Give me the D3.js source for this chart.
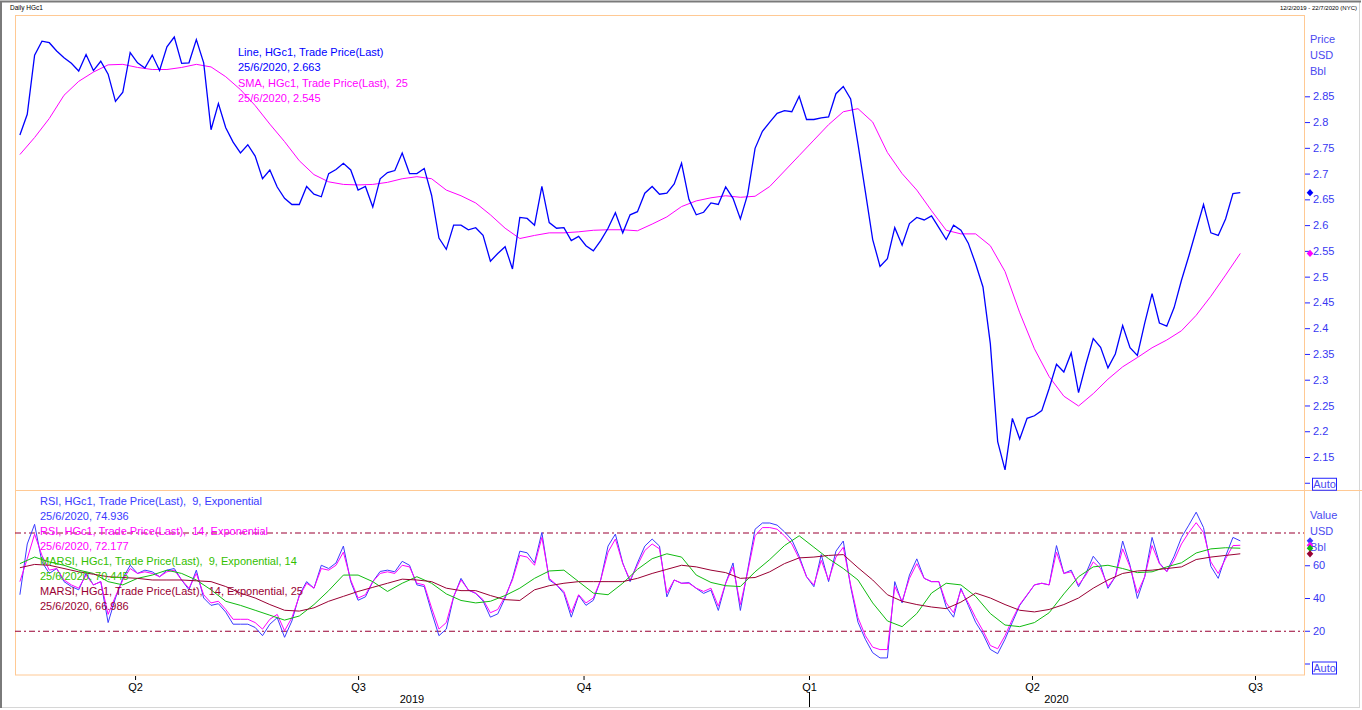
<!DOCTYPE html>
<html>
<head>
<meta charset="utf-8">
<style>
    body { margin: 0; background: #fff; }
    svg { display: block; font-family: "Liberation Sans", Arial, sans-serif; }
    .legend { font-size: 11px; white-space: pre; }
    .yaxis text { fill: #3838f2; font-size: 11px; font-family: "Liberation Sans", Arial, sans-serif; }
    .yaxis line { stroke: #2424ff; }
    .xaxis text { fill: #000; font-size: 11px; font-family: "Liberation Sans", Arial, sans-serif; }
    .xaxis line { stroke: #000; }
</style>
</head>
<body>
<svg width="1362" height="710"></svg>
<script src="https://cdn.jsdelivr.net/npm/d3@7"></script>
<script>

// ---- data ----
var seriesStart = new Date(2019, 1, 13);   // first sample
var dailyStep = 3;                          // days between price / RSI samples
var smoothStep = 6;                         // days between SMA / MARSI samples

var priceValues = [
    2.775, 2.815, 2.93, 2.957, 2.954, 2.938, 2.925, 2.914, 2.899, 2.931,
    2.90, 2.918, 2.893, 2.840, 2.858, 2.935, 2.915, 2.905, 2.930, 2.90,
    2.946, 2.965, 2.914, 2.915, 2.96, 2.915, 2.785, 2.836, 2.789, 2.761,
    2.740, 2.756, 2.734, 2.69, 2.707, 2.674, 2.652, 2.64, 2.64, 2.675,
    2.66, 2.655, 2.70, 2.708, 2.72, 2.707, 2.668, 2.675, 2.635, 2.69,
    2.702, 2.706, 2.74, 2.70, 2.70, 2.71, 2.658, 2.575, 2.553, 2.60,
    2.60, 2.591, 2.595, 2.58, 2.53, 2.545, 2.558, 2.515, 2.615, 2.613,
    2.60, 2.675, 2.605, 2.594, 2.595, 2.57, 2.578, 2.56, 2.55, 2.57,
    2.594, 2.624, 2.585, 2.62, 2.626, 2.662, 2.675, 2.66, 2.662, 2.68,
    2.72, 2.65, 2.62, 2.625, 2.643, 2.64, 2.674, 2.652, 2.612, 2.66,
    2.749, 2.782, 2.80, 2.817, 2.822, 2.82, 2.85, 2.805, 2.805, 2.808,
    2.81, 2.855, 2.869, 2.845, 2.757, 2.665, 2.572, 2.52, 2.535, 2.595,
    2.561, 2.603, 2.615, 2.61, 2.618, 2.595, 2.572, 2.60, 2.59, 2.565,
    2.525, 2.48, 2.37, 2.18, 2.125, 2.225, 2.185, 2.225, 2.23, 2.24,
    2.283, 2.33, 2.315, 2.352, 2.275, 2.33, 2.38, 2.363, 2.323, 2.35,
    2.405, 2.362, 2.347, 2.41, 2.467, 2.41, 2.404, 2.44, 2.493, 2.54,
    2.59, 2.64, 2.585, 2.58, 2.612, 2.661, 2.663
];

var smaValues = [
    2.737, 2.77, 2.807, 2.852, 2.879, 2.897, 2.911, 2.912, 2.906, 2.902,
    2.902, 2.906, 2.912, 2.907, 2.888, 2.863, 2.832, 2.796, 2.762, 2.725,
    2.698, 2.684, 2.679, 2.678, 2.679, 2.683, 2.69, 2.694, 2.69, 2.668,
    2.657, 2.643, 2.62, 2.594, 2.574, 2.58, 2.585, 2.585, 2.587, 2.59,
    2.591, 2.591, 2.589, 2.602, 2.616, 2.636, 2.647, 2.653, 2.657, 2.654,
    2.656, 2.675, 2.705, 2.735, 2.765, 2.795, 2.82, 2.826, 2.80, 2.741,
    2.70, 2.668, 2.628, 2.59, 2.583, 2.583, 2.56, 2.51, 2.43, 2.36,
    2.306, 2.268, 2.249, 2.273, 2.301, 2.325, 2.343, 2.362, 2.377, 2.395,
    2.425, 2.462, 2.503, 2.545
];

var rsi9Values = [
    42, 73, 85, 62, 55, 58, 50, 47, 45, 55,
    48, 50, 25, 40, 52, 60, 55, 57, 56, 53,
    57, 58, 51, 45, 57, 40, 35.5, 36.5, 31.4, 24,
    24, 24, 22, 17, 24, 28, 16, 26, 41.7, 50,
    46, 60, 58, 61.4, 71.7, 50, 38.6, 40.7, 50, 56.2,
    57, 56, 62.4, 60, 48, 47, 31.4, 17, 21, 40.7,
    52, 44.8, 42.8, 38.2, 28.3, 30.3, 40, 52, 68.6, 67.6,
    61.4, 80, 51, 48, 42.8, 28.3, 41.7, 35.5, 38.6, 51,
    71.7, 79, 61.4, 50, 61.4, 71.7, 76, 71.7, 40.7, 51,
    49, 49.4, 45.9, 42.8, 44.8, 32.4, 49, 61.4, 32.4, 57.2,
    82, 85.8, 85.8, 84.5, 80.4, 75.5, 65.5, 53, 46.9, 66.5,
    50, 68.6, 74.8, 46.9, 25.2, 14.8, 6.6, 3.4, 3.4, 50,
    37, 54, 63.9, 52, 50, 50, 34.5, 28.3, 45.9, 35.5,
    25.2, 18, 8.6, 6, 14.8, 25.2, 35.5, 41.7, 48, 49,
    48, 72, 55, 57, 46.9, 55, 65.5, 60, 45.9, 53,
    74.8, 60, 39.7, 53, 77, 61.4, 56.2, 65.5, 77, 84.5,
    92.4, 83, 59.3, 52, 65.5, 77, 74.9
];

var rsi14Values = [
    50, 64, 79, 66, 57, 58, 51, 48, 46, 54,
    48, 50, 30, 41, 51, 58, 55, 56, 55, 53,
    56, 57, 51, 46, 55, 42, 37, 38, 33, 27,
    27, 27, 25, 21, 27, 30, 20, 28, 41, 49,
    46, 58, 57, 60, 68, 51, 40, 42, 50, 55,
    56, 55, 60, 59, 49, 48, 34, 21, 25, 41,
    51, 45, 43, 39, 31, 33, 41, 51, 66, 65,
    60, 77, 52, 48, 44, 31, 42, 37, 40, 51,
    68, 76, 61, 51, 60, 69, 73, 70, 43, 51,
    49, 49, 46, 44, 46, 35, 49, 59, 36, 56,
    78, 83, 83, 82, 78, 73, 64, 53, 48, 63,
    51, 65, 71, 48, 28, 17, 10, 8.5, 8.5, 47,
    38, 52, 61, 52, 50, 50, 37, 31, 45, 37,
    28, 20, 11, 9, 17, 27, 36, 42, 48, 49,
    48, 68, 55, 56, 48, 54, 62, 58, 47, 53,
    70, 59, 43, 53, 72, 61, 56, 63, 73, 80,
    86, 80, 62, 55, 64, 72, 72.2
];

var marsi9Values = [
    61, 65, 62, 60, 57, 55, 50, 48, 52, 54,
    57, 55, 51, 45, 38, 35.5, 32.5, 29.5, 26.5, 29,
    36, 44.5, 54, 54, 50, 44, 49, 53, 49, 42.5,
    38.5, 37, 38, 41.5, 46, 52, 56.5, 57, 50, 43,
    42, 49, 57.5, 64, 67, 65, 54, 49.5, 47.5, 47,
    56, 63.5, 72, 78, 71, 64, 58, 51, 37, 26,
    22.5, 30.5, 43, 49, 48, 41, 30.5, 23.5, 22.5, 25,
    31, 42.5, 53, 59, 60, 58, 55.5, 56, 59, 61.5,
    67.5, 70, 70.7, 70.4
];

var marsi14Values = [
    58.5, 60.5, 60, 58, 56, 54.5, 53, 52.5, 52, 51,
    51, 51, 50.5, 50, 47, 43, 40, 36, 32.5, 32,
    34, 38, 41, 44, 46.5, 49, 51.5, 51, 50, 46,
    44.5, 44.5, 41.5, 39, 38.5, 45, 47.5, 49, 50, 50,
    50, 50, 52, 55, 57.5, 60, 59, 57, 55.5, 52,
    52.5, 56, 61, 64.5, 65, 66, 66.5, 58.5, 51, 42,
    38, 36, 34.5, 33.5, 37.5, 43, 40, 36, 32.5, 31.5,
    33, 36, 40, 46, 51, 55, 56.5, 57, 58, 59,
    63.5, 65, 66, 67
];

var quarterDates = [new Date(2019, 3, 1), new Date(2019, 6, 1), new Date(2019, 9, 1),
                    new Date(2020, 0, 1), new Date(2020, 3, 1), new Date(2020, 6, 1)];
var quarterLabels = ["Q2", "Q3", "Q4", "Q1", "Q2", "Q3"];
var yearLabels = ["2019", "2020"];
var yearBreak = new Date(2020, 0, 1);

var priceTicks = [2.1, 2.15, 2.2, 2.25, 2.3, 2.35, 2.4, 2.45, 2.5, 2.55, 2.6, 2.65, 2.7, 2.75, 2.8, 2.85];
var rsiTicks = [0, 20, 40, 60];
var rsiLevels = [80, 20];

var priceLegend = ["Line, HGc1, Trade Price(Last)", "25/6/2020, 2.663",
                   "SMA, HGc1, Trade Price(Last),  25", "25/6/2020, 2.545"];
var rsiLegend = ["RSI, HGc1, Trade Price(Last),  9, Exponential", "25/6/2020, 74.936",
                 "RSI, HGc1, Trade Price(Last),  14, Exponential", "25/6/2020, 72.177",
                 "MARSI, HGc1, Trade Price(Last),  9, Exponential, 14", "25/6/2020, 70.445",
                 "MARSI, HGc1, Trade Price(Last),  14, Exponential, 25", "25/6/2020, 66.986"];

// ---- colours ----
var frameColor = "#ffc994";
var axisBlue = "#2424ff";
var cPrice = "#0000ff", cSma = "#ff00ff";
var cRsi9 = "#3a3aff", cRsi14 = "#ff00ff", cMarsi9 = "#10bb10", cMarsi14 = "#990033";

// ---- setup ----
var svg = d3.select("svg");

var x = d3.scaleTime()
    .domain([new Date(2019, 1, 11), new Date(2020, 6, 21)])
    .range([15, 1304]);

var yPrice = d3.scaleLinear().domain([2.15, 2.85]).range([457, 96.3]);
var yRsi = d3.scaleLinear().domain([0, 80]).range([663.5, 532.5]);

function toSeries(values, step) {
    return values.map(function (v, i) {
        return { date: d3.timeDay.offset(seriesStart, i * step), value: v };
    });
}

var price = toSeries(priceValues, dailyStep),
    sma = toSeries(smaValues, smoothStep),
    rsi9 = toSeries(rsi9Values, dailyStep),
    rsi14 = toSeries(rsi14Values, dailyStep),
    marsi9 = toSeries(marsi9Values, smoothStep),
    marsi14 = toSeries(marsi14Values, smoothStep);

// window frame
svg.append("rect")
    .attr("x", 1.5).attr("y", 1.5).attr("width", 1358).attr("height", 706)
    .attr("fill", "none").attr("stroke", "#d6d6d6");
svg.append("path")
    .attr("d", "M1,708V1.5H1361")
    .attr("fill", "none").attr("stroke", "#7a7a7a").attr("stroke-width", 2);

// header
svg.append("text")
    .attr("x", 10).attr("y", 10)
    .style("font-size", "6.5px")
    .text("Daily HGc1");
svg.append("text")
    .attr("x", 1357).attr("y", 10)
    .attr("text-anchor", "end")
    .style("font-size", "6px")
    .text("12/2/2019 - 22/7/2020 (NYC)");

// panel frames
svg.append("rect")
    .attr("x", 15.5).attr("y", 15.5).attr("width", 1289).attr("height", 659.5)
    .attr("fill", "none").attr("stroke", frameColor);
svg.append("line")
    .attr("x1", 15).attr("x2", 1362).attr("y1", 490.5).attr("y2", 490.5)
    .attr("stroke", frameColor);

// ---- upper panel: price + SMA ----
var priceLine = d3.line()
    .x(function (d) { return x(d.date); })
    .y(function (d) { return yPrice(d.value); });

svg.append("path").datum(sma)
    .attr("fill", "none").attr("stroke", cSma).attr("stroke-width", 1)
    .attr("d", priceLine);
svg.append("path").datum(price)
    .attr("fill", "none").attr("stroke", cPrice).attr("stroke-width", 1.3)
    .attr("d", priceLine);

var priceColors = [cPrice, cPrice, cSma, cSma];
svg.append("g").selectAll("text")
    .data(priceLegend)
    .enter().append("text")
    .attr("class", "legend")
    .attr("x", 238)
    .attr("y", function (d, i) { return 56 + i * 15.4; })
    .style("fill", function (d, i) { return priceColors[i]; })
    .text(function (d) { return d; });

// price axis
var pAxis = svg.append("g")
    .attr("class", "yaxis")
    .attr("transform", "translate(1305,0)")
    .call(d3.axisRight(yPrice)
        .tickValues(priceTicks)
        .tickSize(5)
        .tickPadding(3)
        .tickFormat(function (d) { return d === 2.1 ? "" : String(d); }));
pAxis.select(".domain").remove();

// ---- lower panel: RSI ----
var rsiLine = d3.line()
    .x(function (d) { return x(d.date); })
    .y(function (d) { return yRsi(d.value); });

svg.append("g").selectAll("line")
    .data(rsiLevels)
    .enter().append("line")
    .attr("x1", 15).attr("x2", 1304)
    .attr("y1", function (d) { return yRsi(d) + 0.5; })
    .attr("y2", function (d) { return yRsi(d) + 0.5; })
    .attr("stroke", cMarsi14).attr("stroke-width", 1.2)
    .attr("stroke-dasharray", "6,3,2,3");

[[rsi9, cRsi9], [rsi14, cRsi14], [marsi9, cMarsi9], [marsi14, cMarsi14]].forEach(function (s) {
    svg.append("path").datum(s[0])
        .attr("fill", "none").attr("stroke", s[1]).attr("stroke-width", 1)
        .attr("d", rsiLine);
});

var rsiColors = [cRsi9, cRsi9, cRsi14, cRsi14, "#33c000", "#33c000", cMarsi14, cMarsi14];
svg.append("g").selectAll("text")
    .data(rsiLegend)
    .enter().append("text")
    .attr("class", "legend")
    .attr("x", 40)
    .attr("y", function (d, i) { return 504.5 + i * 15; })
    .style("fill", function (d, i) { return rsiColors[i]; })
    .text(function (d) { return d; });

var rAxis = svg.append("g")
    .attr("class", "yaxis")
    .attr("transform", "translate(1305,0)")
    .call(d3.axisRight(yRsi)
        .tickValues(rsiTicks)
        .tickSize(5)
        .tickPadding(3)
        .tickFormat(function (d) { return d === 0 ? "" : String(d); }));
rAxis.select(".domain").remove();

// unit captions
function units(lines, top) {
    svg.append("g").selectAll("text")
        .data(lines)
        .enter().append("text")
        .attr("x", 1310)
        .attr("y", function (d, i) { return top + i * 16; })
        .style("font-size", "11px")
        .style("fill", "#4a4af0")
        .text(function (d) { return d; });
}
units(["Price", "USD", "Bbl"], 43);
units(["Value", "USD", "Bbl"], 518.5);

// "Auto" boxes
function autoBox(yTop) {
    svg.append("rect")
        .attr("x", 1312.5).attr("y", yTop).attr("width", 24).attr("height", 12)
        .attr("fill", "#fff").attr("stroke", axisBlue);
    svg.append("text")
        .attr("x", 1324.5).attr("y", yTop + 10)
        .attr("text-anchor", "middle")
        .style("font-size", "11px")
        .style("fill", "#4a4af0")
        .text("Auto");
}
autoBox(yPrice(2.1) - 4.5);
autoBox(yRsi(0) - 1.5);

// last value markers
function diamond(yv, color) {
    svg.append("path")
        .attr("d", "M0,-3.6L3.3,0L0,3.6L-3.3,0Z")
        .attr("transform", "translate(1310," + yv + ")")
        .attr("fill", color);
}
diamond(yPrice(price[price.length - 1].value), cPrice);
diamond(yPrice(sma[sma.length - 1].value), cSma);
diamond(yRsi(rsi9[rsi9.length - 1].value), cRsi9);
diamond(yRsi(rsi14[rsi14.length - 1].value), cRsi14);
diamond(yRsi(marsi9[marsi9.length - 1].value), cMarsi9);
diamond(yRsi(marsi14[marsi14.length - 1].value), cMarsi14);

// ---- time axis ----
var xAxis = svg.append("g")
    .attr("class", "xaxis")
    .attr("transform", "translate(0,676)")
    .call(d3.axisBottom(x)
        .tickValues(quarterDates)
        .tickSize(4)
        .tickPadding(3)
        .tickFormat(function (d, i) { return quarterLabels[i]; }));
xAxis.select(".domain").remove();

var yearMid = [(x.range()[0] + x(yearBreak)) / 2, (x(yearBreak) + x.range()[1]) / 2];
svg.append("g").selectAll("text")
    .data(yearLabels)
    .enter().append("text")
    .attr("x", function (d, i) { return yearMid[i]; })
    .attr("y", 703)
    .attr("text-anchor", "middle")
    .style("font-size", "11px")
    .text(function (d) { return d; });

svg.append("line")
    .attr("x1", Math.round(x(yearBreak)) + 0.5).attr("x2", Math.round(x(yearBreak)) + 0.5)
    .attr("y1", 692).attr("y2", 707)
    .attr("stroke", "#000");

</script>
</body>
</html>
